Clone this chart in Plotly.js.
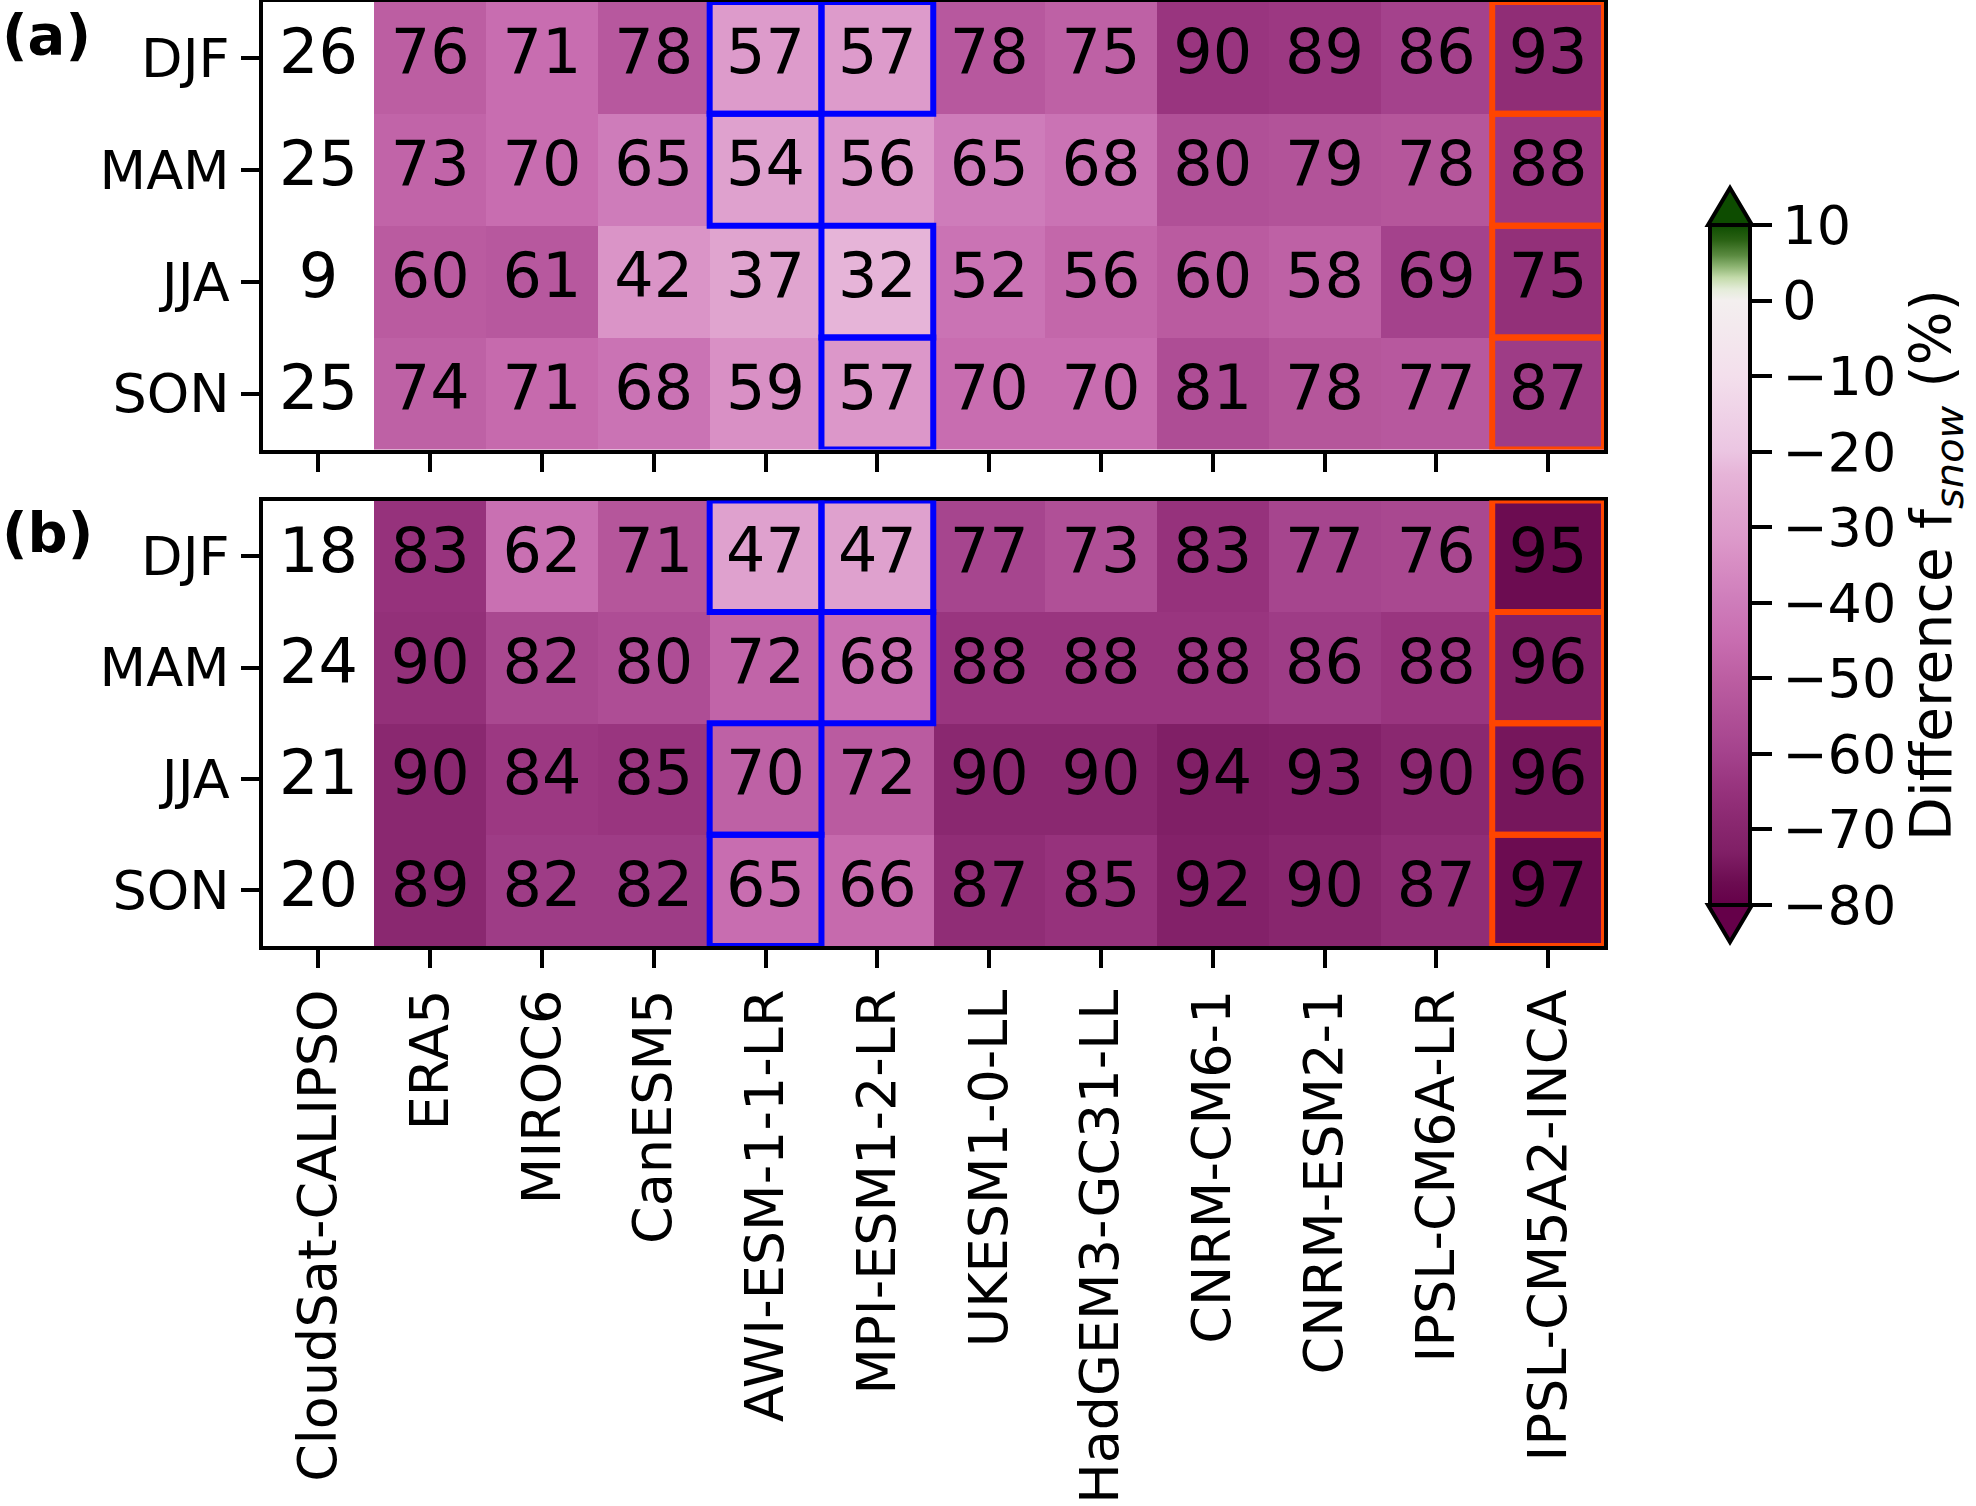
<!DOCTYPE html>
<html>
<head>
<meta charset="utf-8">
<script src="https://cdn.plot.ly/plotly-3.0.1.min.js"></script>
<style>
  body { margin: 0; background: #fff; }
  #fsnowChart { width: 1976px; height: 1506px; }
</style>
</head>
<body>
<div id="fsnowChart"></div>
<script>
// snowfall fraction per season, obs + reanalysis + models
var models = ["CloudSat-CALIPSO", "ERA5", "MIROC6", "CanESM5", "AWI-ESM-1-1-LR",
  "MPI-ESM1-2-LR", "UKESM1-0-LL", "HadGEM3-GC31-LL", "CNRM-CM6-1", "CNRM-ESM2-1",
  "IPSL-CM6A-LR", "IPSL-CM5A2-INCA"];
var seasons = ["DJF", "MAM", "JJA", "SON"];

var fsnowA = [
  [26, 76, 71, 78, 57, 57, 78, 75, 90, 89, 86, 93],
  [25, 73, 70, 65, 54, 56, 65, 68, 80, 79, 78, 88],
  [9, 60, 61, 42, 37, 32, 52, 56, 60, 58, 69, 75],
  [25, 74, 71, 68, 59, 57, 70, 70, 81, 78, 77, 87]
];
var fsnowB = [
  [18, 83, 62, 71, 47, 47, 77, 73, 83, 77, 76, 95],
  [24, 90, 82, 80, 72, 68, 88, 88, 88, 86, 88, 96],
  [21, 90, 84, 85, 70, 72, 90, 90, 94, 93, 90, 96],
  [20, 89, 82, 82, 65, 66, 87, 85, 92, 90, 87, 97]
];

// cells outlined in blue, per season row
var boxedA = [["AWI-ESM-1-1-LR", "MPI-ESM1-2-LR"], ["AWI-ESM-1-1-LR"], ["MPI-ESM1-2-LR"], ["MPI-ESM1-2-LR"]];
var boxedB = [["AWI-ESM-1-1-LR", "MPI-ESM1-2-LR"], ["MPI-ESM1-2-LR"], ["AWI-ESM-1-1-LR"], ["AWI-ESM-1-1-LR"]];
var highlighted = "IPSL-CM5A2-INCA";
var refName = "CloudSat-CALIPSO";

var cbTicks = [10, 0, -10, -20, -30, -40, -50, -60, -70, -80];

var W = 1976, H = 1506;
function px(v) { return v / W; }
function py(v) { return 1 - v / H; }

// colour anchors (value -> colour), diverging around 0
var cmin = -80, cmax = 10;
var anchors = [
  [-80, "#650049"], [-77, "#6c0c51"], [-73, "#801f66"], [-69, "#8a2870"],
  [-65, "#96327c"], [-60, "#a4428c"], [-55, "#b05097"], [-50, "#bc5ea2"],
  [-45, "#c86db0"], [-40, "#ce7cba"], [-34, "#d990c5"], [-31, "#dd9bcb"],
  [-28, "#e0a4cf"], [-23, "#e6b4d8"], [-20, "#ebc5e2"], [-10, "#f3dfec"],
  [0, "#f3efef"], [1.5, "#e4ecd9"], [3, "#c4dbab"], [4.5, "#8db472"],
  [6, "#5a8a40"], [8, "#2a6214"], [10, "#0d4c00"]
];
var colorscale = anchors.map(function (a) { return [(a[0] - cmin) / (cmax - cmin), a[1]]; });

function diffs(tab) {
  return tab.map(function (row) {
    return row.map(function (v, j) { return models[j] === refName ? null : row[0] - v; });
  });
}

function textTrace(tab, xa, ya) {
  var xs = [], ys = [], ts = [];
  tab.forEach(function (row, i) {
    row.forEach(function (v, j) { xs.push(models[j]); ys.push(seasons[i]); ts.push(String(v)); });
  });
  return {
    type: "scatter", mode: "text", x: xs, y: ys, text: ts, xaxis: xa, yaxis: ya,
    textfont: { size: 62, color: "black" }, hoverinfo: "skip", showlegend: false
  };
}

var data = [
  { type: "heatmap", x: models, y: seasons, z: diffs(fsnowA), coloraxis: "coloraxis", xaxis: "x", yaxis: "y", hoverinfo: "skip" },
  { type: "heatmap", x: models, y: seasons, z: diffs(fsnowB), coloraxis: "coloraxis", xaxis: "x2", yaxis: "y2", hoverinfo: "skip" },
  textTrace(fsnowA, "x", "y"),
  textTrace(fsnowB, "x2", "y2")
];

var shapes = [];
function addBoxes(boxed, xr, yr) {
  boxed.forEach(function (names, i) {
    names.forEach(function (n) {
      var j = models.indexOf(n);
      shapes.push({ type: "rect", xref: xr, yref: yr, x0: j - 0.5, x1: j + 0.5, y0: i - 0.5, y1: i + 0.5,
        line: { color: "#0000ff", width: 6 }, layer: "above" });
    });
  });
  var k = models.indexOf(highlighted);
  seasons.forEach(function (s, i) {
    shapes.push({ type: "rect", xref: xr, yref: yr, x0: k - 0.5, x1: k + 0.5, y0: i - 0.5, y1: i + 0.5,
      line: { color: "#ff4500", width: 6 }, layer: "above" });
  });
}
addBoxes(boxedA, "x", "y");
addBoxes(boxedB, "x2", "y2");

// colorbar extension triangles
var cbL = 1708, cbR = 1752, cbTop = 225, cbBot = 905, tri = 37;
shapes.push({ type: "path", xref: "paper", yref: "paper", layer: "above",
  path: "M" + px(cbL) + "," + py(cbTop) + " L" + px(cbR) + "," + py(cbTop) + " L" + px((cbL + cbR) / 2) + "," + py(cbTop - tri) + " Z",
  fillcolor: anchors[anchors.length - 1][1], line: { color: "black", width: 4 } });
shapes.push({ type: "path", xref: "paper", yref: "paper", layer: "above",
  path: "M" + px(cbL) + "," + py(cbBot) + " L" + px(cbR) + "," + py(cbBot) + " L" + px((cbL + cbR) / 2) + "," + py(cbBot + tri) + " Z",
  fillcolor: anchors[0][1], line: { color: "black", width: 4 } });

var xDomain = [px(262.5), px(1604)];
function xAxis(anchor, labels) {
  return {
    domain: xDomain, anchor: anchor, type: "category", range: [-0.5, models.length - 0.5],
    showticklabels: labels, tickangle: -90, tickfont: { size: 54 },
    ticks: "outside", ticklen: 18, tickwidth: 4, tickcolor: "black",
    showline: true, mirror: true, linewidth: 4, linecolor: "black",
    showgrid: false, zeroline: false, fixedrange: true
  };
}
function yAxis(anchor, dom) {
  return {
    domain: dom, anchor: anchor, type: "category", range: [seasons.length - 0.5, -0.5],
    tickfont: { size: 54 }, ticks: "outside", ticklen: 18, tickwidth: 4, tickcolor: "black",
    showline: true, mirror: true, linewidth: 4, linecolor: "black",
    showgrid: false, zeroline: false, fixedrange: true
  };
}

var layout = {
  width: W, height: H,
  margin: { l: 0, r: 0, t: 0, b: 0 },
  paper_bgcolor: "white", plot_bgcolor: "white",
  font: { family: "DejaVu Sans", color: "black" },
  showlegend: false,
  xaxis: xAxis("y", false),
  yaxis: yAxis("x", [py(449.5), py(2)]),
  xaxis2: xAxis("y2", true),
  yaxis2: yAxis("x2", [py(946), py(500.5)]),
  coloraxis: {
    cmin: cmin, cmax: cmax, colorscale: colorscale,
    colorbar: {
      thickness: 40, thicknessmode: "pixels", len: cbBot - cbTop, lenmode: "pixels",
      x: px(cbL + 2), xanchor: "left", y: py(cbTop), yanchor: "top", xpad: 0, ypad: 0,
      outlinewidth: 4, outlinecolor: "black",
      ticks: "outside", ticklen: 20, tickwidth: 4, tickcolor: "black",
      tickvals: cbTicks,
      ticktext: cbTicks.map(function (t) { return t < 0 ? "\u2212" + (-t) : String(t); }),
      tickfont: { size: 54 },
      title: { text: "Difference f<sub><i>snow</i></sub> (%)", side: "right", font: { size: 57 } }
    }
  },
  shapes: shapes,
  annotations: [
    { text: "<b>(a)</b>", xref: "paper", yref: "paper", x: 0, xanchor: "left", y: py(35), yanchor: "middle", showarrow: false, font: { size: 56 } },
    { text: "<b>(b)</b>", xref: "paper", yref: "paper", x: 0, xanchor: "left", y: py(532), yanchor: "middle", showarrow: false, font: { size: 56 } }
  ]
};

Plotly.newPlot("fsnowChart", data, layout, { displayModeBar: false, staticPlot: true });
</script>
</body>
</html>
